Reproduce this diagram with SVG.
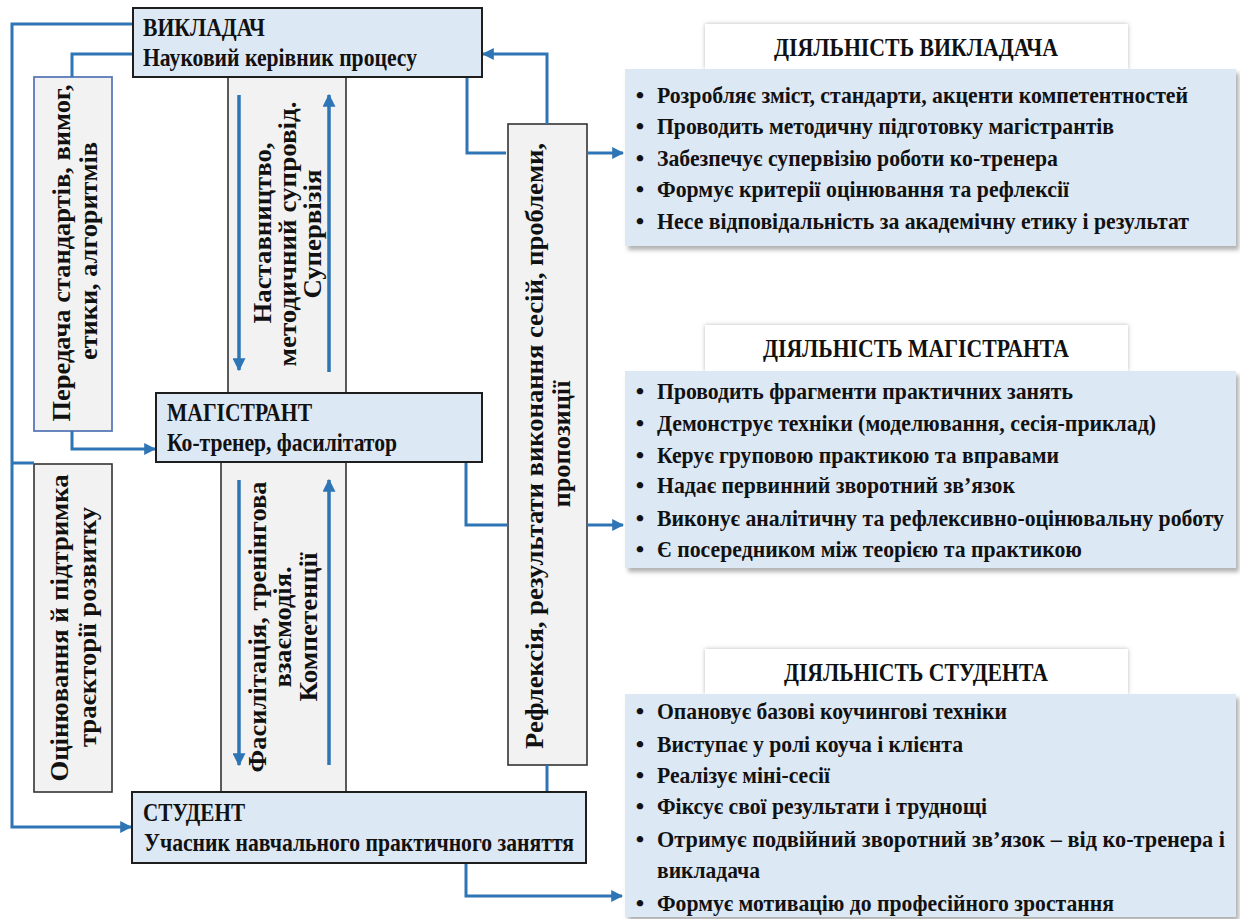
<svg xmlns="http://www.w3.org/2000/svg" width="1240" height="919" viewBox="0 0 1240 919">
<style>
  text { font-family: "Liberation Serif", "Times New Roman", serif; font-weight: bold; fill: #111; }
  .node { fill: #dde8f5; stroke: #1e1e1e; stroke-width: 2; }
  .vbox { fill: #f2f2f2; stroke: #333; stroke-width: 1.6; }
  .vbox-blue { fill: #f2f2f2; stroke: #5b78b8; stroke-width: 1.8; }
  .panel { fill: #dde8f5; }
  .ptitle { fill: #ffffff; }
  .t { font-size: 25px; }
  .b { font-size: 24px; }
  .vt { font-size: 25px; }
  .conn { fill: none; stroke: #2e75b6; stroke-width: 3; }
  .carrow { fill: none; stroke: #2e75b6; stroke-width: 3.5; }
</style>
<defs>
  <marker id="ah" viewBox="0 0 10 10" refX="9" refY="5" markerWidth="12" markerHeight="12" markerUnits="userSpaceOnUse" orient="auto">
    <path d="M0,0 L10,5 L0,10 z" fill="#2e75b6"/>
  </marker>
  <marker id="ah2" viewBox="0 0 10 10" refX="9" refY="5" markerWidth="13" markerHeight="13" markerUnits="userSpaceOnUse" orient="auto">
    <path d="M0,0 L10,5 L0,10 z" fill="#2e75b6"/>
  </marker>
  <filter id="sh" x="-5%" y="-10%" width="110%" height="125%">
    <feDropShadow dx="3" dy="4" stdDeviation="2" flood-color="#7f7f7f" flood-opacity="0.6"/>
  </filter>
  <filter id="sh2" x="-5%" y="-20%" width="110%" height="140%">
    <feDropShadow dx="0" dy="0" stdDeviation="2" flood-color="#8a8a8a" flood-opacity="0.6"/>
  </filter>
</defs>
<rect width="1240" height="919" fill="#ffffff"/>

<!-- vertical columns between nodes -->
<g id="col-upper">
  <rect class="vbox" x="228" y="77" width="118" height="316"/>
  <text class="vt" transform="translate(271,233) rotate(-90)" text-anchor="middle" textLength="181" lengthAdjust="spacingAndGlyphs">Наставництво,</text>
  <text class="vt" transform="translate(296,234) rotate(-90)" text-anchor="middle" textLength="265" lengthAdjust="spacingAndGlyphs">методичний супровід.</text>
  <text class="vt" transform="translate(321,234) rotate(-90)" text-anchor="middle" textLength="129" lengthAdjust="spacingAndGlyphs">Супервізія</text>
</g>
<g id="col-lower">
  <rect class="vbox" x="221" y="462" width="125" height="330"/>
  <text class="vt" transform="translate(266,627) rotate(-90)" text-anchor="middle" textLength="291" lengthAdjust="spacingAndGlyphs">Фасилітація, тренінгова</text>
  <text class="vt" transform="translate(291,627) rotate(-90)" text-anchor="middle" textLength="121" lengthAdjust="spacingAndGlyphs">взаємодія.</text>
  <text class="vt" transform="translate(317,627) rotate(-90)" text-anchor="middle" textLength="149" lengthAdjust="spacingAndGlyphs">Компетенції</text>
</g>
<g id="box-transfer">
  <rect class="vbox-blue" x="34" y="77" width="78" height="354"/>
  <text class="vt" transform="translate(70,253) rotate(-90)" text-anchor="middle" textLength="337" lengthAdjust="spacingAndGlyphs">Передача стандартів, вимог,</text>
  <text class="vt" transform="translate(97,251) rotate(-90)" text-anchor="middle" textLength="218" lengthAdjust="spacingAndGlyphs">етики, алгоритмів</text>
</g>
<g id="box-assessment">
  <rect class="vbox" x="34" y="464" width="78" height="328"/>
  <text class="vt" transform="translate(68,628) rotate(-90)" text-anchor="middle" textLength="307" lengthAdjust="spacingAndGlyphs">Оцінювання й підтримка</text>
  <text class="vt" transform="translate(96,627) rotate(-90)" text-anchor="middle" textLength="240" lengthAdjust="spacingAndGlyphs">траєкторії розвитку</text>
</g>
<g id="box-reflection">
  <rect class="vbox" x="508" y="124" width="79" height="641"/>
  <text class="vt" transform="translate(543,446) rotate(-90)" text-anchor="middle" textLength="606" lengthAdjust="spacingAndGlyphs">Рефлексія, результати виконання сесій, проблеми,</text>
  <text class="vt" transform="translate(570,444) rotate(-90)" text-anchor="middle" textLength="127" lengthAdjust="spacingAndGlyphs">пропозиції</text>
</g>

<!-- connectors -->
<g id="connectors">
  <path class="conn" d="M133,24 H12 V827 H131" marker-end="url(#ah)"/>
  <path class="conn" d="M12,463 H34"/>
  <path class="conn" d="M133,54 H72 V77"/>
  <path class="conn" d="M72,431 V449 H155" marker-end="url(#ah)"/>
  <path class="conn" d="M547,124 V54 H483" marker-end="url(#ah)"/>
  <path class="conn" d="M467,77 V153 H506"/>
  <path class="conn" d="M587,153 H623" marker-end="url(#ah)"/>
  <path class="conn" d="M466,462 V525 H508"/>
  <path class="conn" d="M587,525 H623" marker-end="url(#ah)"/>
  <path class="conn" d="M547,765 V792"/>
  <path class="conn" d="M466,863 V896 H622" marker-end="url(#ah)"/>
  <path class="carrow" d="M239,95 V370" marker-end="url(#ah2)"/>
  <path class="carrow" d="M329,372 V95" marker-end="url(#ah2)"/>
  <path class="carrow" d="M239,480 V765" marker-end="url(#ah2)"/>
  <path class="carrow" d="M329,765 V480" marker-end="url(#ah2)"/>
</g>

<!-- main nodes -->
<g id="node-teacher">
  <rect class="node" x="133" y="8" width="349" height="69"/>
  <text class="t" x="143" y="36" textLength="122" lengthAdjust="spacingAndGlyphs">ВИКЛАДАЧ</text>
  <text class="t" x="143" y="66" textLength="274" lengthAdjust="spacingAndGlyphs">Науковий керівник процесу</text>
</g>
<g id="node-master">
  <rect class="node" x="156" y="393" width="326" height="69"/>
  <text class="t" x="167" y="421" textLength="145" lengthAdjust="spacingAndGlyphs">МАГІСТРАНТ</text>
  <text class="t" x="167" y="451" textLength="230" lengthAdjust="spacingAndGlyphs">Ко-тренер, фасилітатор</text>
</g>
<g id="node-student">
  <rect class="node" x="132" y="792" width="454" height="71"/>
  <text class="t" x="143" y="821" textLength="102" lengthAdjust="spacingAndGlyphs">СТУДЕНТ</text>
  <text class="t" x="144" y="851" textLength="430" lengthAdjust="spacingAndGlyphs">Учасник навчального практичного заняття</text>
</g>

<!-- activity panels -->
<g id="panel-teacher">
  <rect class="ptitle" x="705" y="24" width="423" height="45" filter="url(#sh2)"/>
  <text class="t" x="916" y="56" text-anchor="middle" textLength="284" lengthAdjust="spacingAndGlyphs">ДІЯЛЬНІСТЬ ВИКЛАДАЧА</text>
  <rect class="panel" x="625" y="69" width="611" height="177" filter="url(#sh)"/>
  <text class="b" x="640" y="103" text-anchor="middle">•</text>
  <text class="b" x="657" y="103" textLength="531" lengthAdjust="spacingAndGlyphs">Розробляє зміст, стандарти, акценти компетентностей</text>
  <text class="b" x="640" y="134" text-anchor="middle">•</text>
  <text class="b" x="657" y="134" textLength="457" lengthAdjust="spacingAndGlyphs">Проводить методичну підготовку магістрантів</text>
  <text class="b" x="640" y="166" text-anchor="middle">•</text>
  <text class="b" x="657" y="166" textLength="401" lengthAdjust="spacingAndGlyphs">Забезпечує супервізію роботи ко-тренера</text>
  <text class="b" x="640" y="197" text-anchor="middle">•</text>
  <text class="b" x="657" y="197" textLength="412" lengthAdjust="spacingAndGlyphs">Формує критерії оцінювання та рефлексії</text>
  <text class="b" x="640" y="229" text-anchor="middle">•</text>
  <text class="b" x="657" y="229" textLength="532" lengthAdjust="spacingAndGlyphs">Несе відповідальність за академічну етику і результат</text>
</g>
<g id="panel-master">
  <rect class="ptitle" x="705" y="325" width="423" height="46" filter="url(#sh2)"/>
  <text class="t" x="916" y="357" text-anchor="middle" textLength="306" lengthAdjust="spacingAndGlyphs">ДІЯЛЬНІСТЬ МАГІСТРАНТА</text>
  <rect class="panel" x="625" y="371" width="611" height="197" filter="url(#sh)"/>
  <text class="b" x="640" y="399" text-anchor="middle">•</text>
  <text class="b" x="657" y="399" textLength="416" lengthAdjust="spacingAndGlyphs">Проводить фрагменти практичних занять</text>
  <text class="b" x="640" y="431" text-anchor="middle">•</text>
  <text class="b" x="657" y="431" textLength="499" lengthAdjust="spacingAndGlyphs">Демонструє техніки (моделювання, сесія-приклад)</text>
  <text class="b" x="640" y="463" text-anchor="middle">•</text>
  <text class="b" x="657" y="463" textLength="402" lengthAdjust="spacingAndGlyphs">Керує груповою практикою та вправами</text>
  <text class="b" x="640" y="493" text-anchor="middle">•</text>
  <text class="b" x="657" y="493" textLength="358" lengthAdjust="spacingAndGlyphs">Надає первинний зворотний зв’язок</text>
  <text class="b" x="640" y="526" text-anchor="middle">•</text>
  <text class="b" x="657" y="526" textLength="567" lengthAdjust="spacingAndGlyphs">Виконує аналітичну та рефлексивно-оцінювальну роботу</text>
  <text class="b" x="640" y="557" text-anchor="middle">•</text>
  <text class="b" x="657" y="557" textLength="425" lengthAdjust="spacingAndGlyphs">Є посередником між теорією та практикою</text>
</g>
<g id="panel-student">
  <rect class="ptitle" x="705" y="649" width="423" height="45" filter="url(#sh2)"/>
  <text class="t" x="916" y="681" text-anchor="middle" textLength="264" lengthAdjust="spacingAndGlyphs">ДІЯЛЬНІСТЬ СТУДЕНТА</text>
  <rect class="panel" x="625" y="694" width="611" height="223" filter="url(#sh)"/>
  <text class="b" x="640" y="719" text-anchor="middle">•</text>
  <text class="b" x="657" y="719" textLength="350" lengthAdjust="spacingAndGlyphs">Опановує базові коучингові техніки</text>
  <text class="b" x="640" y="752" text-anchor="middle">•</text>
  <text class="b" x="657" y="752" textLength="306" lengthAdjust="spacingAndGlyphs">Виступає у ролі коуча і клієнта</text>
  <text class="b" x="640" y="783" text-anchor="middle">•</text>
  <text class="b" x="657" y="783" textLength="173" lengthAdjust="spacingAndGlyphs">Реалізує міні-сесії</text>
  <text class="b" x="640" y="814" text-anchor="middle">•</text>
  <text class="b" x="657" y="814" textLength="330" lengthAdjust="spacingAndGlyphs">Фіксує свої результати і труднощі</text>
  <text class="b" x="640" y="847" text-anchor="middle">•</text>
  <text class="b" x="657" y="847" textLength="568" lengthAdjust="spacingAndGlyphs">Отримує подвійний зворотний зв’язок – від ко-тренера і</text>
  <text class="b" x="657" y="878" textLength="103" lengthAdjust="spacingAndGlyphs">викладача</text>
  <text class="b" x="640" y="911" text-anchor="middle">•</text>
  <text class="b" x="657" y="911" textLength="457" lengthAdjust="spacingAndGlyphs">Формує мотивацію до професійного зростання</text>
</g>
</svg>
